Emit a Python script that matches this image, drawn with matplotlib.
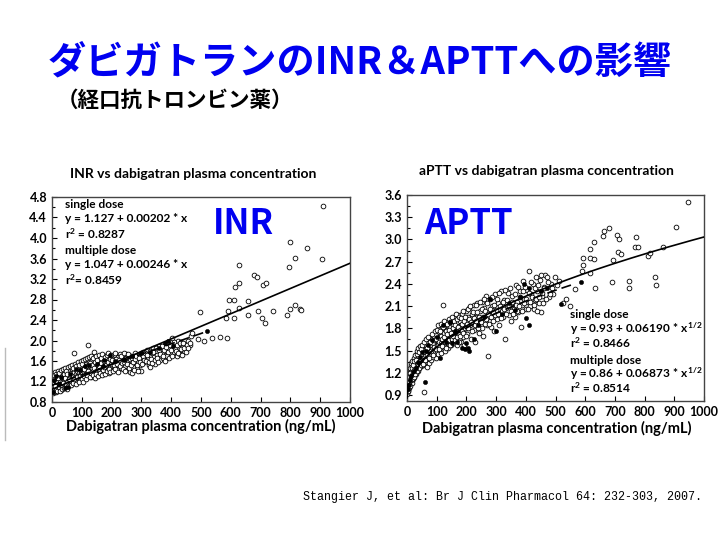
import numpy as np
import matplotlib
matplotlib.use('Agg')
import matplotlib.pyplot as plt
from matplotlib.ticker import MultipleLocator, FormatStrFormatter
from matplotlib.lines import Line2D

plt.rcParams['font.family'] = ['Lato', 'DejaVu Sans']
plt.rcParams['mathtext.fontset'] = 'custom'
plt.rcParams['mathtext.rm'] = 'Lato:bold'
plt.rcParams['mathtext.it'] = 'Lato:bold'
plt.rcParams['mathtext.bf'] = 'Lato:bold'

# ---- INR data (x: ng/mL, y: INR) ----
inr_open = [
    (2,1.02),(3,1.10),(4,1.18),(5,0.98),(6,1.25),(7,1.05),(8,1.14),(9,1.21),(10,1.08),(11,1.30),
    (12,1.00),(13,1.16),(14,1.23),(15,1.11),(16,1.05),(17,1.28),(18,1.19),(19,1.13),(20,1.34),(21,1.07),
    (22,1.22),(24,1.15),(25,1.26),(26,1.10),(28,1.31),(29,1.18),(30,1.04),(31,1.24),(33,1.12),(34,1.36),
    (35,1.20),(37,1.08),(38,1.29),(40,1.17),(41,1.33),(43,1.22),(44,1.12),(46,1.38),(47,1.26),(49,1.15),
    (50,1.30),(52,1.20),(53,1.40),(55,1.27),(56,1.13),(58,1.34),(59,1.22),(61,1.42),(62,1.29),(64,1.18),
    (65,1.37),(67,1.25),(68,1.45),(70,1.32),(72,1.20),(73,1.39),(75,1.75),(76,1.28),(78,1.44),(79,1.35),
    (81,1.22),(83,1.40),(84,1.30),(86,1.48),(88,1.26),(89,1.37),(91,1.45),(93,1.32),(95,1.23),(96,1.41),
    (98,1.50),(100,1.35),(102,1.28),(104,1.45),(106,1.38),(108,1.52),(110,1.30),(112,1.42),(114,1.55),
    (116,1.36),(118,1.47),(120,1.92),(121,1.33),(123,1.58),(125,1.44),(127,1.38),(129,1.50),(131,1.29),
    (133,1.62),(135,1.46),(137,1.40),(139,1.55),(141,1.78),(142,1.35),(144,1.48),(146,1.60),(148,1.42),
    (150,1.53),(152,1.38),(154,1.65),(156,1.47),(158,1.56),(160,1.40),(162,1.61),(164,1.50),(166,1.43),
    (168,1.68),(170,1.55),(172,1.46),(174,1.62),(176,1.38),(178,1.52),(180,1.70),(182,1.58),(184,1.44),
    (186,1.64),(188,1.50),(190,1.36),(192,1.57),(194,1.67),(196,1.48),(198,1.60),(200,1.42),(203,1.55),
    (206,1.66),(209,1.48),(212,1.72),(215,1.58),(218,1.45),(221,1.68),(224,1.52),(227,1.74),(230,1.60),
    (233,1.47),(236,1.70),(239,1.56),(242,1.64),(245,1.50),(248,1.73),(251,1.42),(254,1.62),(257,1.68),
    (260,1.55),(263,1.38),(266,1.70),(269,1.59),(272,1.48),(275,1.65),(278,1.75),(281,1.56),(284,1.44),
    (287,1.68),(290,1.60),(293,1.72),(296,1.52),(299,1.40),(303,1.66),(306,1.78),(310,1.58),(314,1.70),
    (318,1.82),(322,1.64),(326,1.52),(330,1.48),(334,1.75),(338,1.86),(342,1.68),(346,1.55),(350,1.80),
    (354,1.72),(358,1.90),(362,1.62),(366,1.84),(370,1.76),(374,1.66),(378,1.92),(382,1.80),(386,1.70),
    (390,1.96),(394,1.84),(398,1.74),(402,2.05),(406,1.88),(410,1.78),(414,1.95),(418,1.70),(422,2.00),
    (426,1.86),(430,1.74),(434,1.98),(438,1.90),(442,1.80),(446,1.94),(450,1.85),(456,2.00),(462,1.92),
    (468,2.08),(470,2.15),(489,2.03),(510,2.00),(538,2.05),(563,2.06),(586,2.04),(498,2.56),(584,2.44),
    (590,2.58),(593,2.80),(611,2.80),(611,2.44),(614,3.04),(626,2.63),(628,3.13),(628,3.48),(658,2.77),
    (658,2.50),(678,3.28),(687,3.24),(691,2.58),(706,2.43),(707,3.09),(715,2.35),(717,3.13),(743,2.58),
    (790,2.49),(796,3.43),(799,2.61),(800,3.93),(815,3.61),(815,2.69),(833,2.62),(837,2.60),(857,3.81),
    (906,3.60),(910,4.62),
]
inr_open_band = [
    (1,1.15),(3,1.27),(4,1.06),(6,1.32),(8,0.99),(9,1.38),(11,1.12),(13,1.04),(14,1.34),(16,1.20),
    (18,1.02),(19,1.40),(21,1.26),(23,1.09),(24,1.37),(26,1.20),(27,1.02),(29,1.42),(31,1.13),(32,1.30),
    (34,1.06),(36,1.44),(37,1.18),(39,1.35),(41,1.08),(42,1.27),(44,1.46),(46,1.16),(48,1.40),(49,1.05),
    (51,1.34),(53,1.12),(54,1.48),(57,1.24),(60,1.50),(63,1.14),(66,1.52),(69,1.18),(71,1.46),(74,1.24),
    (77,1.55),(80,1.16),(82,1.50),(85,1.28),(87,1.58),(90,1.20),(92,1.53),(94,1.30),(97,1.60),(99,1.25),
    (101,1.55),(103,1.20),(105,1.62),(107,1.30),(109,1.44),(111,1.64),(113,1.24),(115,1.50),(117,1.66),
    (119,1.32),(122,1.40),(124,1.68),(126,1.28),(128,1.56),(130,1.70),(132,1.36),(134,1.52),(136,1.32),
    (138,1.65),(140,1.46),(143,1.26),(145,1.58),(147,1.70),(149,1.34),(151,1.62),(153,1.45),(155,1.30),
    (157,1.72),(159,1.50),(161,1.36),(163,1.66),(165,1.56),(167,1.32),(169,1.74),(171,1.42),(173,1.60),
    (175,1.48),(177,1.68),(179,1.35),(181,1.52),(183,1.72),(185,1.40),(187,1.58),(189,1.75),(191,1.45),
    (193,1.64),(195,1.38),(197,1.55),(199,1.72),(201,1.62),(204,1.40),(207,1.52),(210,1.75),(213,1.45),
    (216,1.64),(219,1.54),(222,1.38),(225,1.62),(228,1.50),(231,1.70),(234,1.56),(237,1.44),(240,1.76),
    (243,1.58),(246,1.40),(249,1.66),(252,1.54),(255,1.74),(258,1.46),(261,1.64),(264,1.52),(267,1.36),
    (270,1.66),(273,1.58),(276,1.42),(279,1.64),(282,1.70),(285,1.52),(288,1.40),(291,1.66),(294,1.58),
    (297,1.76),(301,1.55),(305,1.70),(308,1.62),(312,1.76),(316,1.60),(320,1.72),(324,1.58),(328,1.80),
    (332,1.64),(336,1.56),(340,1.78),(344,1.62),(348,1.85),(352,1.66),(356,1.58),(360,1.82),(364,1.74),
    (368,1.90),(372,1.70),(376,1.82),(380,1.60),(384,1.88),(388,1.78),(392,1.66),(396,1.92),(400,1.82),
    (404,1.70),(408,1.98),(412,1.86),(416,1.80),(420,1.92),(424,1.76),(428,1.96),(432,1.84),(436,1.72),
    (440,1.96),(444,1.86),(448,1.78),(452,1.92),(458,1.86),(464,1.96),
]
inr_filled = [
    (3,1.00),(8,1.22),(15,1.30),(22,1.15),(30,1.28),(45,1.08),(55,1.10),(62,1.35),(80,1.45),(95,1.42),
    (110,1.50),(125,1.52),(150,1.55),(170,1.50),(175,1.62),(195,1.72),(210,1.60),(240,1.62),(270,1.70),
    (300,1.76),(330,1.78),(360,1.85),(380,1.95),(390,2.00),(405,1.90),(520,2.18),
]
# fit coefficients: (intercept, slope)
inr_single = (1.127, 0.00202)
inr_multiple = (1.047, 0.00246)

# ---- aPTT data (x: ng/mL, y: aPTT ratio) ----
aptt_open = [
    (1,0.92),(2,1.00),(2,1.08),(3,0.95),(3,1.04),(4,1.12),(5,0.98),(5,1.06),(6,1.15),(7,1.02),(7,1.10),
    (8,1.20),(9,1.05),(10,1.14),(10,1.24),(11,1.09),(12,1.18),(13,1.27),(14,1.12),(15,1.22),(16,1.06),
    (17,1.30),(18,1.16),(19,1.25),(20,1.12),(21,1.33),(22,1.20),(24,1.28),(25,1.15),(26,1.36),(27,1.24),
    (29,1.31),(30,1.18),(31,1.40),(33,1.27),(34,1.35),(36,1.22),(37,1.43),(39,1.30),(40,1.38),(42,1.26),
    (43,1.46),(45,1.33),(46,1.40),(48,1.29),(49,1.50),(51,1.36),(52,1.44),(54,1.30),(55,1.55),(56,1.40),
    (58,0.94),(58,1.48),(59,1.34),(61,1.58),(62,1.43),(64,1.37),(65,1.52),(67,1.28),(68,1.60),(70,1.46),
    (71,1.40),(73,1.55),(74,1.33),(76,1.63),(77,1.50),(79,1.44),(80,1.58),(82,1.38),(83,1.66),(85,1.52),
    (86,1.46),(88,1.60),(89,1.42),(91,1.70),(92,1.55),(94,1.48),(95,1.64),(97,1.40),(98,1.72),(100,1.58),
    (102,1.50),(104,1.66),(106,1.45),(108,1.75),(110,1.60),(112,1.53),(114,1.70),(116,1.47),(118,1.80),
    (120,2.11),(121,1.63),(123,1.56),(125,1.74),(127,1.50),(129,1.84),(131,1.67),(133,1.60),(135,1.78),
    (137,1.54),(139,1.88),(141,1.70),(143,1.63),(145,1.82),(147,1.57),(149,1.92),(151,1.73),(153,1.66),
    (155,1.85),(157,1.60),(159,1.78),(161,1.95),(163,1.70),(165,1.63),(167,1.88),(169,1.58),(171,1.80),
    (173,1.98),(175,1.73),(177,1.66),(179,1.90),(181,1.62),(183,1.84),(185,2.00),(187,1.76),(189,1.69),
    (191,1.93),(193,1.58),(195,1.86),(197,2.04),(199,1.80),(203,1.72),(206,1.95),(209,2.08),(212,1.84),
    (215,1.66),(218,2.00),(221,1.90),(224,2.12),(227,1.78),(230,1.62),(233,1.96),(236,2.14),(239,1.86),
    (242,1.74),(245,2.04),(248,1.92),(251,2.16),(254,1.80),(257,1.70),(260,2.08),(263,1.95),(266,2.24),
    (269,1.84),(272,1.43),(275,2.02),(278,1.90),(281,2.20),(284,1.82),(287,2.10),(290,1.96),(293,1.76),
    (296,2.26),(299,2.05),(303,1.92),(307,2.14),(311,1.84),(315,2.30),(319,2.04),(323,1.96),(327,2.18),
    (331,1.66),(335,2.08),(339,2.28),(343,1.98),(347,2.12),(351,1.90),(355,2.24),(359,2.06),(363,1.95),
    (367,2.38),(371,2.16),(375,2.02),(379,2.30),(383,1.82),(387,2.12),(391,2.44),(395,2.20),(399,2.06),
    (403,2.32),(407,2.16),(411,2.58),(415,2.10),(419,2.26),(423,2.40),(427,2.06),(431,2.18),(435,2.50),
    (439,2.30),(443,2.14),(447,2.45),(451,2.02),(455,2.24),(460,2.36),(465,2.52),(470,2.49),(478,2.22),
    (485,2.40),(492,2.26),(498,2.49),(505,2.38),(512,2.44),(525,2.14),(535,2.20),(550,2.10),(566,2.33),
    (589,2.58),(594,2.65),(594,2.75),(615,2.55),(617,2.75),(617,2.87),(628,2.74),(630,2.97),(632,2.35),
    (661,3.04),(662,3.12),(681,3.15),(691,2.42),(695,2.72),(708,3.06),(711,2.83),(713,3.01),(720,2.80),
    (747,2.44),(747,2.34),(767,2.90),(770,3.03),(777,2.90),(810,2.78),(818,2.82),(836,2.50),(838,2.38),
    (863,2.90),(905,3.17),(945,3.50),
]
aptt_open_band = [
    (1,1.00),(2,0.95),(3,1.12),(4,0.99),(5,1.16),(6,1.00),(7,1.20),(8,1.08),(9,1.26),(10,1.02),
    (11,1.20),(12,1.30),(13,1.10),(14,1.33),(15,1.16),(16,1.26),(17,1.12),(18,1.36),(19,1.20),(20,1.30),
    (22,1.40),(23,1.14),(24,1.36),(25,1.24),(27,1.44),(28,1.18),(29,1.38),(31,1.26),(32,1.46),(34,1.22),
    (35,1.50),(37,1.32),(38,1.54),(40,1.26),(41,1.48),(43,1.36),(44,1.56),(46,1.30),(47,1.52),(49,1.40),
    (52,1.58),(55,1.32),(57,1.62),(60,1.38),(63,1.66),(66,1.44),(69,1.54),(72,1.68),(75,1.40),(78,1.62),
    (81,1.50),(84,1.72),(87,1.44),(90,1.64),(93,1.76),(96,1.52),(99,1.66),(101,1.78),(103,1.58),(105,1.84),
    (107,1.62),(109,1.52),(111,1.76),(113,1.60),(115,1.86),(117,1.66),(119,1.56),(122,1.82),(124,1.68),
    (126,1.90),(128,1.62),(130,1.76),(132,1.54),(134,1.86),(136,1.72),(138,1.64),(140,1.92),(142,1.78),
    (144,1.58),(146,1.88),(148,1.74),(150,1.66),(152,1.96),(154,1.80),(156,1.70),(158,1.90),(160,1.64),
    (162,1.84),(164,2.00),(166,1.76),(168,1.68),(170,1.92),(172,1.82),(174,1.62),(176,1.96),(178,1.78),
    (180,1.70),(182,1.94),(184,1.76),(186,1.86),(188,2.04),(190,1.74),(192,1.90),(194,1.80),(196,1.96),
    (198,1.70),(201,1.86),(204,2.06),(207,1.80),(210,1.92),(213,2.10),(216,1.88),(219,1.76),(222,2.02),
    (225,1.94),(228,1.84),(231,2.12),(234,1.90),(237,2.02),(240,1.80),(243,1.96),(246,2.16),(249,1.88),
    (252,2.06),(255,1.96),(258,2.20),(261,1.86),(264,2.04),(267,1.92),(270,2.14),(273,2.00),(276,1.86),
    (279,2.06),(282,1.96),(285,2.22),(288,2.02),(291,1.90),(294,2.12),(297,1.98),(302,2.20),(306,2.00),
    (310,2.28),(314,2.10),(318,1.94),(322,2.16),(326,2.06),(330,2.32),(334,2.00),(338,2.18),(342,2.10),
    (346,2.34),(350,2.04),(354,2.16),(358,2.00),(362,2.26),(366,2.12),(370,2.04),(374,2.36),(378,2.10),
    (382,2.22),(386,2.04),(390,2.30),(394,2.14),(398,2.36),(402,2.20),(406,2.06),(410,2.28),(414,2.16),
    (418,2.42),(422,2.22),(426,2.12),(430,2.34),(434,2.20),(438,2.04),(442,2.38),(446,2.22),(450,2.52),
    (454,2.28),(458,2.14),(462,2.34),(468,2.20),(474,2.42),(480,2.26),(488,2.34),
]
aptt_filled = [
    (3,0.98),(6,1.03),(10,1.10),(15,1.16),(22,1.22),(30,1.26),(38,1.34),(45,1.42),(50,1.48),(60,1.08),
    (65,1.50),(70,1.57),(85,1.64),(100,1.68),(110,1.40),(120,1.84),(130,1.62),(145,1.88),(150,1.60),
    (160,1.76),(170,1.62),(185,1.54),(195,1.52),(200,1.60),(205,1.53),(210,1.50),(225,1.66),(240,1.85),
    (260,1.96),(280,2.20),(300,1.76),(320,2.00),(345,2.14),(365,2.05),(380,2.22),(395,2.40),(400,1.94),
    (410,2.34),(412,1.85),(450,2.30),(470,2.34),(520,2.13),(587,2.42),
]
# fit coefficients: (intercept, coefficient of sqrt(x))
aptt_single = (0.93, 0.06190)
aptt_multiple = (0.86, 0.06873)

W, H = 720, 540


def fx(x):
    return x / W


def fy(y):
    return 1 - y / H


fig = plt.figure(figsize=(7.2, 5.4), dpi=100)
fig.patch.set_facecolor('white')

blue = '#0000F0'
fig.text(fx(360), fy(62), 'ダビガトランのINR＆APTTへの影響', color=blue,
         fontsize=27.5, fontweight='bold', ha='center', va='center',
         family=['Noto Sans CJK JP', 'DejaVu Sans'])
fig.text(fx(57), fy(100), '（経口抗トロンビン薬）', color='black',
         fontsize=15.5, fontweight='bold', ha='left', va='center',
         family=['Noto Sans CJK JP', 'DejaVu Sans'])
fig.text(fx(303), fy(497), 'Stangier J, et al: Br J Clin Pharmacol 64: 232-303, 2007.',
         fontsize=8.4, ha='left', va='center', family=['Liberation Mono', 'DejaVu Sans Mono'])

fig.add_artist(Line2D([fx(5), fx(5)], [fy(348), fy(440)], color='#bbbbbb', lw=1))


def style_axes(ax, ymin, ymax, ymajor, yminor):
    ax.set_xlim(0, 1000)
    ax.set_ylim(ymin, ymax)
    ax.xaxis.set_major_locator(MultipleLocator(100))
    ax.yaxis.set_major_locator(MultipleLocator(ymajor))
    ax.yaxis.set_minor_locator(MultipleLocator(yminor))
    ax.yaxis.set_major_formatter(FormatStrFormatter('%.1f'))
    ax.tick_params(which='both', direction='in', labelsize=9, width=0.8, pad=3.5)
    ax.tick_params(which='major', length=3.5)
    ax.tick_params(which='minor', length=2)
    for lab in ax.get_xticklabels() + ax.get_yticklabels():
        lab.set_fontweight('bold')
    for sp in ax.spines.values():
        sp.set_color('#444444')
        sp.set_linewidth(1.0)


def scatter(ax, open_pts, band_pts, filled_pts):
    ox, oy = np.array(open_pts + band_pts).T
    bx, by = np.array(filled_pts).T
    ax.plot(ox, oy, 'o', ms=3.4, mfc='white', mec='black', mew=0.6, ls='none', zorder=2)
    ax.plot(bx, by, 'o', ms=3.0, mfc='black', mec='black', mew=0.4, ls='none', zorder=3)


# ---- INR panel ----
ax1 = fig.add_axes([fx(52), fy(402), (350 - 52) / W, (402 - 197) / H])
scatter(ax1, inr_open, inr_open_band, inr_filled)
xs = np.linspace(0, 1000, 200)
ax1.plot(xs, inr_multiple[0] + inr_multiple[1] * xs, color='black', lw=1.2, zorder=4)
xs_s = np.linspace(0, 520, 200)
ax1.plot(xs_s, inr_single[0] + inr_single[1] * xs_s, color='black', lw=1.2,
         ls=(0, (6, 3)), zorder=4)
style_axes(ax1, 0.8, 4.8, 0.4, 0.2)
fig.text(fx(193), fy(174), 'INR vs dabigatran plasma concentration', fontsize=10,
         fontweight='bold', ha='center', va='center')
fig.text(fx(201), fy(426), 'Dabigatran plasma concentration (ng/mL)', fontsize=10.5,
         fontweight='bold', ha='center', va='center')
fig.text(fx(243), fy(223), 'INR', color=blue, fontsize=25, fontweight='bold',
         ha='center', va='center', family=['Noto Sans CJK JP', 'DejaVu Sans'])
inr_notes = [(205, 'single dose'), (219, 'y = 1.127 + 0.00202 * x'), (234, r'r$^2$ = 0.8287'),
             (251, 'multiple dose'), (265, 'y = 1.047 + 0.00246 * x'), (280, r'r$^2$= 0.8459')]
for yy, s in inr_notes:
    fig.text(fx(65), fy(yy), s, fontsize=8.6, fontweight='bold', ha='left', va='center')

# ---- aPTT panel ----
ax2 = fig.add_axes([fx(407), fy(401), (704 - 407) / W, (401 - 195) / H])
scatter(ax2, aptt_open, aptt_open_band, aptt_filled)
ax2.plot(xs, aptt_multiple[0] + aptt_multiple[1] * np.sqrt(xs), color='black', lw=1.2, zorder=4)
xs_s2 = np.linspace(0, 565, 200)
ax2.plot(xs_s2, aptt_single[0] + aptt_single[1] * np.sqrt(xs_s2), color='black', lw=1.2,
         ls=(0, (6, 3)), zorder=4)
style_axes(ax2, 0.82, 3.6, 0.3, 0.15)
fig.text(fx(546), fy(171), 'aPTT vs dabigatran plasma concentration', fontsize=10,
         fontweight='bold', ha='center', va='center')
fig.text(fx(557), fy(428), 'Dabigatran plasma concentration (ng/mL)', fontsize=10.5,
         fontweight='bold', ha='center', va='center')
fig.text(fx(468), fy(224), 'APTT', color=blue, fontsize=25, fontweight='bold',
         ha='center', va='center', family=['Noto Sans CJK JP', 'DejaVu Sans'])
aptt_notes = [(314, 'single dose'), (329, r'y = 0.93 + 0.06190 * x$^{\,1/2}$'), (343, r'r$^2$ = 0.8466'),
              (360, 'multiple dose'), (374, r'y = 0.86 + 0.06873 * x$^{\,1/2}$'), (388, r'r$^2$ = 0.8514')]
for yy, s in aptt_notes:
    fig.text(fx(570), fy(yy), s, fontsize=8.6, fontweight='bold', ha='left', va='center')

fig.savefig('out.png', dpi=100)
